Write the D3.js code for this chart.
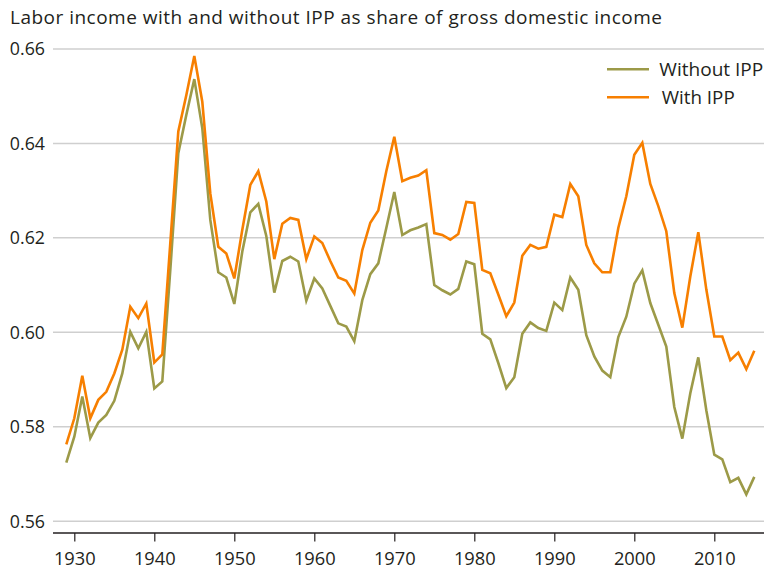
<!DOCTYPE html>
<html>
<head>
<meta charset="utf-8">
<script src="https://cdn.jsdelivr.net/npm/d3@7"></script>
<style>
  html, body { margin: 0; padding: 0; background: #fff; }
  svg { display: block; font-family: "Open Sans", "Noto Sans", sans-serif; }
</style>
</head>
<body>
<svg id="chart" width="764" height="569"></svg>
<script>
const years = d3.range(1929, 2016);

const withoutIPP = [
  0.5723, 0.5778, 0.5863, 0.5775, 0.5808, 0.5824, 0.5854, 0.5912, 0.6000, 0.5965,
  0.6000, 0.5880, 0.5895, 0.6131, 0.6378, 0.6459, 0.6535, 0.6431, 0.6237, 0.6126,
  0.6115, 0.6059, 0.6170, 0.6253, 0.6271, 0.6203, 0.6083, 0.6150, 0.6159, 0.6149,
  0.6066, 0.6113, 0.6092, 0.6055, 0.6018, 0.6011, 0.5980, 0.6067, 0.6122, 0.6145,
  0.6220, 0.6296, 0.6205, 0.6215, 0.6221, 0.6228, 0.6099, 0.6088, 0.6079, 0.6091,
  0.6149, 0.6143, 0.5996, 0.5984, 0.5934, 0.5881, 0.5904, 0.5996, 0.6020, 0.6008,
  0.6002, 0.6062, 0.6046, 0.6115, 0.6089, 0.5993, 0.5948, 0.5918, 0.5904, 0.5989,
  0.6032, 0.6102, 0.6130, 0.6061, 0.6015, 0.5969, 0.5841, 0.5774, 0.5870, 0.5946,
  0.5834, 0.5740, 0.5730, 0.5682, 0.5691, 0.5656, 0.5693
];

const withIPP = [
  0.5762, 0.5817, 0.5907, 0.5817, 0.5856, 0.5873, 0.5912, 0.5962, 0.6053, 0.6029,
  0.6060, 0.5935, 0.5952, 0.6188, 0.6424, 0.6501, 0.6584, 0.6487, 0.6293, 0.6180,
  0.6166, 0.6113, 0.6216, 0.6311, 0.6340, 0.6276, 0.6154, 0.6229, 0.6241, 0.6237,
  0.6154, 0.6202, 0.6188, 0.6150, 0.6115, 0.6108, 0.6081, 0.6173, 0.6231, 0.6257,
  0.6340, 0.6413, 0.6319, 0.6326, 0.6331, 0.6342, 0.6209, 0.6205, 0.6195, 0.6207,
  0.6275, 0.6273, 0.6131, 0.6124, 0.6079, 0.6033, 0.6062, 0.6161, 0.6184, 0.6176,
  0.6180, 0.6248, 0.6243, 0.6313, 0.6287, 0.6184, 0.6145, 0.6126, 0.6126, 0.6220,
  0.6287, 0.6375, 0.6400, 0.6313, 0.6266, 0.6213, 0.6082, 0.6009, 0.6117, 0.6211,
  0.6090, 0.5990, 0.5990, 0.5940, 0.5956, 0.5921, 0.5960
];

const xTicks = [1930, 1940, 1950, 1960, 1970, 1980, 1990, 2000, 2010];
const yTicks = [0.56, 0.58, 0.60, 0.62, 0.64, 0.66];
const seriesNames = ["Without IPP", "With IPP"];
const titleText = "Labor income with and without IPP as share of gross domestic income";

const colors = { "Without IPP": "#9c9a48", "With IPP": "#f77f00" };

const svg = d3.select("#chart");
const x = d3.scaleLinear().domain([1930, 2010]).range([74.3, 714.3]);
const y = d3.scaleLinear().domain([0.56, 0.66]).range([520.8, 48.4]);
const plotLeft = 53, plotRight = 764;

// title
svg.append("text")
  .attr("x", 10).attr("y", 24)
  .attr("font-size", 19).attr("fill", "#231f20")
  .attr("textLength", 652).attr("lengthAdjust", "spacing")
  .text(titleText);

// y grid + labels
const yAxis = svg.append("g")
  .attr("transform", `translate(${plotLeft},0)`)
  .call(d3.axisLeft(y).tickValues(yTicks).tickFormat(d3.format(".2f"))
        .tickSize(-(plotRight - plotLeft)).tickPadding(8));
yAxis.select(".domain").remove();
yAxis.selectAll(".tick line").attr("stroke", "#cfcfcf").attr("stroke-width", 1.5);
yAxis.selectAll(".tick text").attr("font-size", 17.8).attr("fill", "#231f20")
  .attr("font-family", "\"Open Sans\", sans-serif").attr("dy", "0.36em");

// x axis
const xAxis = svg.append("g")
  .attr("transform", "translate(0,533)")
  .call(d3.axisBottom(x).tickValues(xTicks).tickFormat(d3.format("d")).tickSize(8.5).tickPadding(10.5));
xAxis.select(".domain").remove();
xAxis.append("line").attr("x1", plotLeft).attr("x2", plotRight).attr("y1", 0).attr("y2", 0)
  .attr("stroke", "#231f20").attr("stroke-width", 1.5);
xAxis.selectAll(".tick line").attr("stroke", "#231f20").attr("stroke-width", 1.2);
xAxis.selectAll(".tick text").attr("font-size", 18.3).attr("fill", "#231f20")
  .attr("font-family", "\"Open Sans\", sans-serif");

// lines
const line = d3.line().x((d, i) => x(years[i])).y(d => y(d));
[[withoutIPP, "Without IPP"], [withIPP, "With IPP"]].forEach(([vals, name]) => {
  svg.append("path").datum(vals)
    .attr("d", line)
    .attr("fill", "none")
    .attr("stroke", colors[name])
    .attr("stroke-width", 2.6)
    .attr("stroke-linejoin", "miter");
});

// legend
const legend = svg.append("g");
seriesNames.forEach((name, i) => {
  const ly = 69.3 + i * 28;
  legend.append("line").attr("x1", 607).attr("x2", 649).attr("y1", ly).attr("y2", ly)
    .attr("stroke", colors[name]).attr("stroke-width", 2.6);
  legend.append("text").attr("x", i === 0 ? 659.3 : 661.7).attr("y", ly + 6.3)
    .attr("font-size", 18.5).attr("fill", "#231f20")
    .attr("textLength", i === 0 ? 104 : 73).attr("lengthAdjust", "spacingAndGlyphs")
    .text(name);
});
</script>
</body>
</html>
